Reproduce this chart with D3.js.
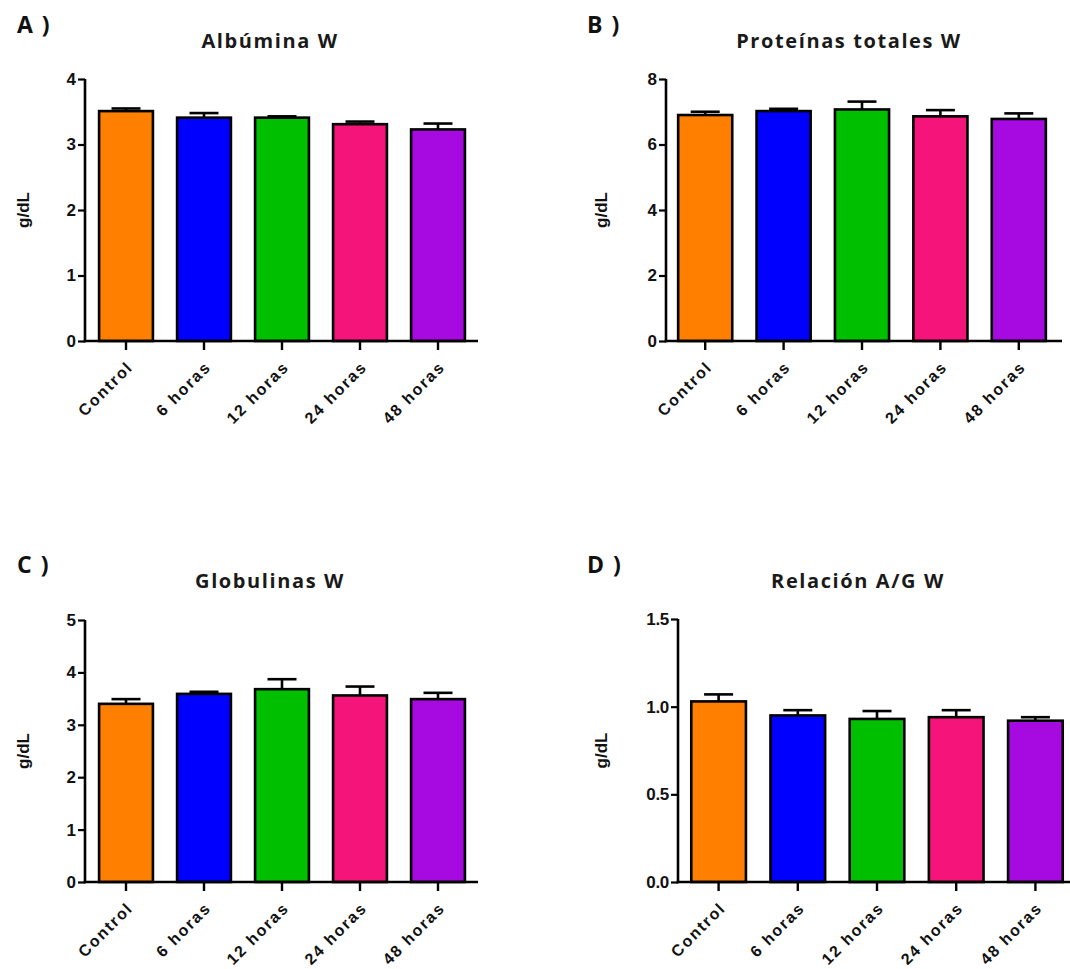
<!DOCTYPE html>
<html>
<head>
<meta charset="utf-8">
<script src="https://cdn.jsdelivr.net/npm/d3@7"></script>
<style>
  html, body { margin: 0; padding: 0; background: #ffffff; }
  svg { display: block; }
</style>
</head>
<body>
<svg id="chart" width="1070" height="969"></svg>
<script>
// ---- data ----
const categories = ["Control", "6 horas", "12 horas", "24 horas", "48 horas"];
const barColors = ["#FF7F00", "#0000FF", "#00BF00", "#F5157A", "#A60AE0"];

const albuminaMean = [3.51, 3.41, 3.41, 3.31, 3.23];
const albuminaErr  = [0.04, 0.07, 0.02, 0.04, 0.09];
const albuminaTicks = [0, 1, 2, 3, 4];

const proteinasMean = [6.90, 7.02, 7.07, 6.86, 6.78];
const proteinasErr  = [0.10, 0.07, 0.24, 0.19, 0.17];
const proteinasTicks = [0, 2, 4, 6, 8];

const globulinasMean = [3.40, 3.59, 3.68, 3.56, 3.49];
const globulinasErr  = [0.09, 0.04, 0.19, 0.17, 0.12];
const globulinasTicks = [0, 1, 2, 3, 4, 5];

const relacionMean = [1.03, 0.95, 0.93, 0.94, 0.92];
const relacionErr  = [0.04, 0.03, 0.045, 0.04, 0.02];
const relacionTicks = [0, 0.5, 1.0, 1.5];

const panels = [
  { letter: "A )", title: "Albúmina W", mean: albuminaMean, err: albuminaErr, ticks: albuminaTicks, fmt: d3.format("d"),
    axisX: 85, bandRange: [87, 477], axisEnd: 478, top: 79, bottom: 341, titleX: 270, letterX: 17, ylabX: 23, yOff: 0 },
  { letter: "B )", title: "Proteínas totales W", mean: proteinasMean, err: proteinasErr, ticks: proteinasTicks, fmt: d3.format("d"),
    axisX: 666, bandRange: [666, 1058], axisEnd: 1062, top: 79, bottom: 341, titleX: 849, letterX: 587, ylabX: 601, yOff: 0 },
  { letter: "C )", title: "Globulinas W", mean: globulinasMean, err: globulinasErr, ticks: globulinasTicks, fmt: d3.format("d"),
    axisX: 85, bandRange: [87, 477], axisEnd: 478, top: 620, bottom: 882, titleX: 270, letterX: 17, ylabX: 23, yOff: 540 },
  { letter: "D )", title: "Relación  A/G W", mean: relacionMean, err: relacionErr, ticks: relacionTicks, fmt: d3.format(".1f"),
    axisX: 678, bandRange: [679, 1075], axisEnd: 1070, top: 619, bottom: 882, titleX: 858, letterX: 587, ylabX: 601, yOff: 540 }
];

const svg = d3.select("#chart");
const domainMax = [4, 8, 5, 1.5];

panels.forEach((p, pi) => {
  const g = svg.append("g");
  const x = d3.scaleBand().domain(categories).range(p.bandRange).paddingInner(0.31).paddingOuter(0.155);
  const y = d3.scaleLinear().domain([0, domainMax[pi]]).range([p.bottom, p.top]);

  // panel letter
  g.append("text")
    .attr("x", p.letterX).attr("y", p.yOff + 33)
    .attr("font-family", "'Open Sans', sans-serif").attr("font-weight", "bold")
    .attr("font-size", 23).attr("letter-spacing", 1.5).attr("fill", "#111")
    .text(p.letter);

  // title
  g.append("text")
    .attr("x", p.titleX).attr("y", p.yOff + 48)
    .attr("text-anchor", "middle")
    .attr("font-family", "'Open Sans', sans-serif").attr("font-weight", "bold")
    .attr("font-size", 20).attr("letter-spacing", 1.6).attr("fill", "#1a1a1a")
    .text(p.title);

  // y label
  g.append("text")
    .attr("transform", `translate(${p.ylabX + 6},${(p.top + p.bottom) / 2}) rotate(-90)`)
    .attr("text-anchor", "middle")
    .attr("font-family", "'Liberation Sans', Arial, sans-serif").attr("font-weight", "bold")
    .attr("font-size", 17).attr("fill", "#111")
    .text("g/dL");

  // bars
  g.selectAll("rect.bar").data(p.mean).enter().append("rect")
    .attr("class", "bar")
    .attr("x", (d, i) => x(categories[i]))
    .attr("width", x.bandwidth())
    .attr("y", d => y(d))
    .attr("height", d => y(0) - y(d))
    .attr("fill", (d, i) => barColors[i])
    .attr("stroke", "#000").attr("stroke-width", 2.6);

  // error bars (upper only)
  const capW = 29;
  p.mean.forEach((m, i) => {
    const cx = x(categories[i]) + x.bandwidth() / 2;
    g.append("line")
      .attr("x1", cx).attr("x2", cx)
      .attr("y1", y(m)).attr("y2", y(m + p.err[i]))
      .attr("stroke", "#000").attr("stroke-width", 2.6);
    g.append("line")
      .attr("x1", cx - capW / 2).attr("x2", cx + capW / 2)
      .attr("y1", y(m + p.err[i])).attr("y2", y(m + p.err[i]))
      .attr("stroke", "#000").attr("stroke-width", 2.6);
  });

  // y axis
  const yAxis = d3.axisLeft(y).tickValues(p.ticks).tickFormat(p.fmt).tickSize(7).tickPadding(2).tickSizeOuter(0);
  const ya = g.append("g").attr("transform", `translate(${p.axisX},0)`).call(yAxis);
  ya.select(".domain").attr("stroke", "#000").attr("stroke-width", 2.6)
    .attr("d", `M0,${p.top}V${p.bottom + 1.3}`);
  ya.selectAll(".tick line").attr("stroke", "#000").attr("stroke-width", 2.2);
  ya.selectAll(".tick text")
    .attr("font-family", "'Liberation Sans', Arial, sans-serif").attr("font-weight", "bold")
    .attr("font-size", 17).attr("letter-spacing", pi === 3 ? -0.3 : 0).attr("fill", "#111");

  // x axis
  const xAxis = d3.axisBottom(x).tickSize(9).tickSizeOuter(0).tickFormat("");
  const xa = g.append("g").attr("transform", `translate(0,${p.bottom})`).call(xAxis);
  xa.select(".domain").attr("stroke", "#000").attr("stroke-width", 2.6)
    .attr("d", `M${p.axisX - 1.3},0H${p.axisEnd}`);
  xa.selectAll(".tick line").attr("stroke", "#000").attr("stroke-width", 2.4);

  // rotated x labels
  g.selectAll("text.xlab").data(categories).enter().append("text")
    .attr("class", "xlab")
    .attr("transform", d => `translate(${x(d) + x.bandwidth() / 2 + 8},${p.bottom + 27}) rotate(-45)`)
    .attr("text-anchor", "end")
    .attr("font-family", "'Liberation Sans', Arial, sans-serif").attr("font-weight", "bold")
    .attr("font-size", 16).attr("letter-spacing", 1.8).attr("fill", "#111")
    .text(d => d);
});
</script>
</body>
</html>
